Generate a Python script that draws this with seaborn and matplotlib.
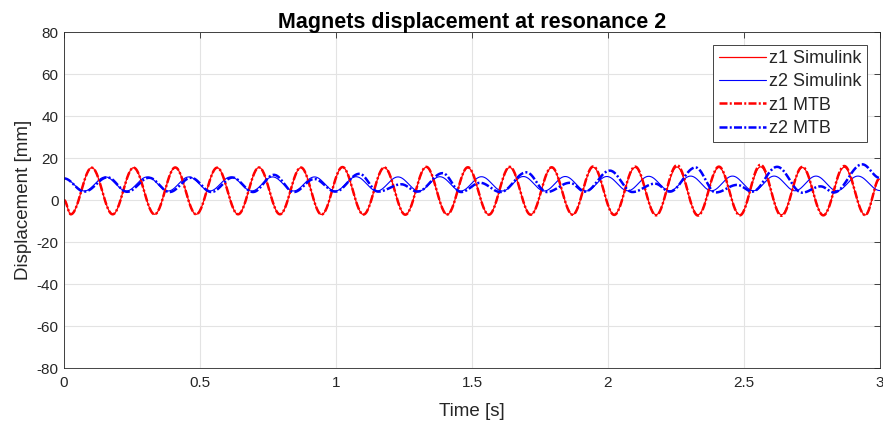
import numpy as np
import pandas as pd
import matplotlib.pyplot as plt
import seaborn as sns

# %% Data: extrema (time [s], displacement [mm]) of each trace
z1_t = [0.000, 0.025, 0.102, 0.179, 0.256, 0.333, 0.409, 0.486, 0.563, 0.640, 0.717,
        0.794, 0.871, 0.947, 1.024, 1.101, 1.178, 1.255, 1.332, 1.409, 1.485, 1.562,
        1.639, 1.716, 1.793, 1.870, 1.946, 2.023, 2.100, 2.177, 2.254, 2.331, 2.408,
        2.485, 2.561, 2.638, 2.715, 2.792, 2.869, 2.946, 3.000]
z1_sim = [0.0, -6.8, 15.4, -6.8, 15.4, -6.8, 15.5, -6.8, 15.4, -6.8, 15.5,
          -6.8, 15.4, -6.9, 15.6, -6.9, 15.4, -6.9, 15.6, -6.8, 15.4, -6.9,
          15.5, -6.9, 15.4, -6.9, 15.6, -6.9, 15.5, -7.0, 15.7, -7.0, 15.5,
          -7.0, 15.8, -7.0, 15.5, -7.1, 15.6, -7.1, 10.0]
z1_mtb = [0.0, -6.8, 15.4, -6.8, 15.4, -6.8, 15.5, -6.8, 15.4, -6.8, 15.5,
          -6.8, 15.5, -6.9, 15.7, -6.9, 15.5, -7.0, 15.8, -6.9, 15.6, -7.0,
          15.8, -7.0, 15.6, -7.0, 16.0, -7.1, 15.9, -7.3, 16.6, -7.4, 15.9,
          -7.3, 16.8, -7.5, 15.8, -7.3, 16.2, -7.2, 10.5]

z2_sim_t = [0.000, 0.075, 0.152, 0.229, 0.306, 0.383, 0.459, 0.536, 0.613, 0.690, 0.767,
            0.844, 0.921, 0.997, 1.074, 1.151, 1.228, 1.305, 1.382, 1.459, 1.535, 1.612,
            1.689, 1.766, 1.843, 1.920, 1.996, 2.073, 2.150, 2.227, 2.304, 2.381, 2.458,
            2.535, 2.611, 2.688, 2.765, 2.842, 2.919, 3.000]
z2_sim = [10.3, 4.3, 11.0, 4.3, 11.0, 4.3, 11.0, 4.3, 11.0, 4.3, 11.0,
          4.3, 11.0, 4.3, 11.1, 4.3, 11.0, 4.3, 11.1, 4.3, 11.1, 4.3,
          11.2, 4.3, 11.2, 4.3, 11.2, 4.4, 11.3, 4.4, 11.4, 4.4, 11.4,
          4.4, 11.4, 4.4, 11.4, 4.4, 11.4, 4.5]

z2_mtb_t = [0.000, 0.075, 0.160, 0.232, 0.313, 0.388, 0.467, 0.542, 0.620, 0.695, 0.772,
            0.845, 0.920, 0.998, 1.086, 1.155, 1.240, 1.300, 1.392, 1.460, 1.530, 1.605,
            1.700, 1.775, 1.860, 1.915, 2.007, 2.090, 2.173, 2.228, 2.322, 2.396, 2.475,
            2.531, 2.622, 2.714, 2.782, 2.831, 2.935, 3.000]
z2_mtb = [10.3, 4.0, 10.8, 3.9, 10.6, 3.8, 10.6, 3.8, 10.7, 3.8, 12.0,
          3.8, 10.0, 4.0, 12.5, 4.0, 7.5, 4.0, 12.8, 3.8, 8.2, 3.8,
          13.2, 3.8, 8.2, 4.0, 14.0, 3.8, 7.8, 4.0, 15.5, 3.6, 7.2,
          4.0, 15.8, 3.5, 6.5, 3.6, 17.0, 10.5]


def trace(tk, vk, n=30):
    # half-cosine between consecutive extrema so the trace looks like the sampled signal
    ts, vs = [], []
    for i in range(len(tk) - 1):
        s = np.linspace(0, 1, n, endpoint=False)
        ts.append(tk[i] + (tk[i + 1] - tk[i]) * s)
        vs.append(vk[i] + (vk[i + 1] - vk[i]) * (1 - np.cos(np.pi * s)) / 2)
    ts.append([tk[-1]])
    vs.append([vk[-1]])
    return pd.DataFrame({"time": np.concatenate(ts), "disp": np.concatenate(vs)})


# %% Plot
sns.set_theme(style="white")
plt.rcParams["font.family"] = ["Liberation Sans", "DejaVu Sans"]
plt.rcParams["axes.unicode_minus"] = False

fig = plt.figure(figsize=(8.83, 4.23), dpi=100)
ax = fig.add_axes([0.0725, 0.130, 0.924, 0.7943])

dashdot = (0, (3.2, 0.9, 0.8, 0.9))
series = [
    (z1_t, z1_sim, "z1 Simulink", "red", "-", 0.9),
    (z2_sim_t, z2_sim, "z2 Simulink", "blue", "-", 0.8),
    (z1_t, z1_mtb, "z1 MTB", "red", dashdot, 1.8),
    (z2_mtb_t, z2_mtb, "z2 MTB", "blue", dashdot, 1.8),
]
for tk, vk, name, col, ls, lw in series:
    d = trace(tk, vk)
    sns.lineplot(data=d, x="time", y="disp", ax=ax, color=col, linestyle=ls,
                 linewidth=lw, label=name, estimator=None, sort=False)

ax.set_xlim(0, 3)
ax.set_ylim(-80, 80)
ax.set_xticks([0, 0.5, 1, 1.5, 2, 2.5, 3])
ax.set_xticklabels(["0", "0.5", "1", "1.5", "2", "2.5", "3"])
ax.set_yticks(range(-80, 81, 20))
ax.grid(True, color="#e3e3e3", linewidth=0.8)
ax.set_axisbelow(True)
ax.tick_params(direction="in", top=True, right=True, length=4, width=0.6,
               labelsize=11, colors="#262626")
ax.tick_params(axis="x", pad=6)
ax.tick_params(axis="y", pad=4)
for sp in ax.spines.values():
    sp.set_color("#262626")
    sp.set_linewidth(0.6)

ax.set_xlabel("Time [s]", fontsize=13.5, color="#262626", labelpad=9)
ax.set_ylabel("Displacement [mm]", fontsize=13.5, color="#262626", labelpad=3)
ax.set_title("Magnets displacement at resonance 2", fontsize=15.5, fontweight="bold",
             color="black", pad=3)

leg = ax.legend(loc="upper right", fontsize=13, fancybox=False, framealpha=1,
                edgecolor="#262626", borderaxespad=0.7, handlelength=2.6,
                handletextpad=0.2, labelspacing=0.35, borderpad=0.3)
leg.get_frame().set_linewidth(0.6)

fig.savefig("out.png", dpi=100)
